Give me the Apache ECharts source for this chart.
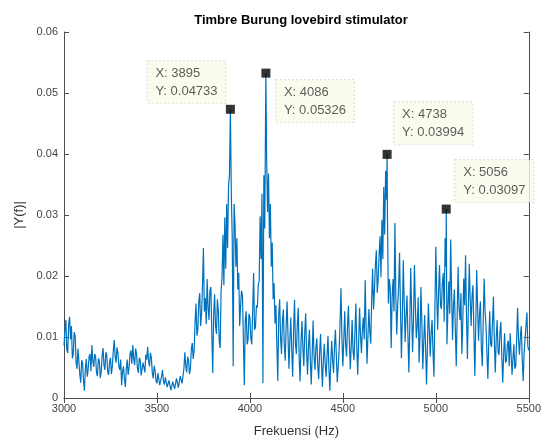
<!DOCTYPE html>
<html>
<head>
<meta charset="utf-8">
<script src="https://cdn.jsdelivr.net/npm/echarts@6/dist/echarts.min.js"></script>
<style>
  html, body { margin: 0; padding: 0; background: #fff; }
  #chart { width: 544px; height: 444px; }
</style>
</head>
<body>
<div id="chart"></div>
<script>
  // spectrum, one value every 5 Hz from 3000 Hz (one row = 100 Hz)
  const freqStart = 3000;
  const freqStep = 5;
  const amp = [
    0.0086, 0.0112, 0.0128, 0.0079, 0.0074, 0.0121, 0.0133, 0.0096, 0.0118, 0.0065, 0.0072, 0.0108, 0.0102, 0.0058, 0.0048, 0.0081, 0.0079, 0.0039, 0.0025, 0.0062,
    0.0057, 0.0028, 0.0012, 0.0049, 0.0064, 0.0035, 0.0047, 0.0068, 0.0072, 0.0044, 0.0087, 0.0061, 0.0051, 0.0072, 0.0068, 0.0041, 0.0036, 0.0065, 0.0061, 0.0033,
    0.0042, 0.0069, 0.0082, 0.0054, 0.0046, 0.0075, 0.0071, 0.0043, 0.0038, 0.0058, 0.0066, 0.0039, 0.0052, 0.0077, 0.0095, 0.0068, 0.0058, 0.0083, 0.0074, 0.0052,
    0.0046, 0.0063, 0.0021, 0.0044, 0.0052, 0.0031, 0.0018, 0.0047, 0.0063, 0.0038, 0.0049, 0.0072, 0.0078, 0.0056, 0.0087, 0.0064, 0.0054, 0.0081, 0.0073, 0.0049,
    0.0041, 0.0066, 0.0062, 0.0037, 0.0035, 0.0058, 0.0057, 0.0042, 0.0071, 0.0063, 0.0084, 0.0061, 0.0052, 0.0074, 0.0066, 0.0041, 0.0032, 0.0053, 0.0045, 0.0028,
    0.0024, 0.0041, 0.0038, 0.0021, 0.0019, 0.0036, 0.0046, 0.0027, 0.0022, 0.0034, 0.0031, 0.0018, 0.0016, 0.0029, 0.0028, 0.0013, 0.0014, 0.0027, 0.0026, 0.0015,
    0.0018, 0.0032, 0.0029, 0.0017, 0.0015, 0.0036, 0.0033, 0.0024, 0.0021, 0.0048, 0.0075, 0.0052, 0.0042, 0.0068, 0.0061, 0.0039, 0.0048, 0.0081, 0.0090, 0.0064,
    0.0078, 0.0124, 0.0155, 0.0102, 0.0112, 0.0158, 0.0172, 0.0118, 0.0138, 0.0185, 0.0246, 0.0142, 0.0164, 0.0121, 0.0195, 0.0148, 0.0128, 0.0176, 0.0182, 0.0108,
    0.0041, 0.0135, 0.0170, 0.0118, 0.0105, 0.0162, 0.0144, 0.0092, 0.0082, 0.0175, 0.0198, 0.0268, 0.0185, 0.0296, 0.0212, 0.0318, 0.0246, 0.0348, 0.0365, 0.04733,
    0.0335, 0.0262, 0.0052, 0.0318, 0.0285, 0.0215, 0.0262, 0.0178, 0.0205, 0.0118, 0.0152, 0.0176, 0.0168, 0.0095, 0.0021, 0.0128, 0.0142, 0.0088, 0.0095, 0.0138,
    0.0132, 0.0098, 0.0088, 0.0145, 0.0205, 0.0112, 0.0116, 0.0152, 0.0148, 0.0186, 0.0192, 0.0298, 0.0228, 0.0335, 0.0024, 0.0365, 0.0278, 0.0497, 0.0392, 0.0305,
    0.0368, 0.0262, 0.0318, 0.0215, 0.0255, 0.0162, 0.0188, 0.0122, 0.0152, 0.0085, 0.0028, 0.0135, 0.0162, 0.0098, 0.0072, 0.0128, 0.0145, 0.0086, 0.0061, 0.0118,
    0.0158, 0.0102, 0.0048, 0.0095, 0.0132, 0.0078, 0.0035, 0.0112, 0.0161, 0.0088, 0.0072, 0.0121, 0.0148, 0.0064, 0.0027, 0.0092, 0.0126, 0.0081, 0.0052, 0.0108,
    0.0139, 0.0076, 0.0038, 0.0084, 0.0112, 0.0062, 0.0022, 0.0071, 0.0127, 0.0068, 0.0046, 0.0082, 0.0098, 0.0052, 0.0031, 0.0074, 0.0105, 0.0058, 0.0018, 0.0062,
    0.0089, 0.0055, 0.0035, 0.0071, 0.0102, 0.0048, 0.0012, 0.0058, 0.0094, 0.0062, 0.0041, 0.0085, 0.0112, 0.0068, 0.0026, 0.0052, 0.0078, 0.0124, 0.0180, 0.0098,
    0.0052, 0.0096, 0.0142, 0.0088, 0.0068, 0.0118, 0.0151, 0.0092, 0.0047, 0.0085, 0.0128, 0.0076, 0.0062, 0.0108, 0.0155, 0.0082, 0.0038, 0.0092, 0.0148, 0.0102,
    0.0074, 0.0112, 0.0132, 0.0096, 0.0193, 0.0118, 0.0056, 0.0102, 0.0146, 0.0108, 0.0089, 0.0162, 0.0212, 0.0145, 0.0178, 0.0218, 0.0242, 0.0172, 0.0196, 0.0235,
    0.0265, 0.0198, 0.0292, 0.0228, 0.0346, 0.0268, 0.0372, 0.0325, 0.0295, 0.0155, 0.0195, 0.0178, 0.0082, 0.0165, 0.0195, 0.0142, 0.0287, 0.0168, 0.0104, 0.0152,
    0.0182, 0.0238, 0.0145, 0.0065, 0.0132, 0.0226, 0.0158, 0.0092, 0.0135, 0.0168, 0.0102, 0.0042, 0.0118, 0.0213, 0.0142, 0.0075, 0.0128, 0.0218, 0.0152, 0.0098,
    0.0118, 0.0165, 0.0058, 0.0102, 0.0182, 0.0122, 0.0047, 0.0092, 0.0136, 0.0082, 0.0022, 0.0085, 0.0155, 0.0112, 0.0068, 0.0108, 0.0128, 0.0074, 0.0035, 0.0142,
    0.0248, 0.0168, 0.0112, 0.0175, 0.0218, 0.0152, 0.0146, 0.0188, 0.0205, 0.0125, 0.0262, 0.0215, 0.0088, 0.0145, 0.0191, 0.0138, 0.0260, 0.0172, 0.0095, 0.0152,
    0.0178, 0.0112, 0.0052, 0.0138, 0.0215, 0.0148, 0.0128, 0.0172, 0.0072, 0.0125, 0.0196, 0.0152, 0.0234, 0.0135, 0.0064, 0.0148, 0.0220, 0.0162, 0.0118, 0.0168,
    0.0185, 0.0105, 0.0036, 0.0122, 0.0210, 0.0148, 0.0094, 0.0138, 0.0158, 0.0082, 0.0052, 0.0128, 0.0196, 0.0142, 0.0118, 0.0072, 0.0031, 0.0095, 0.0142, 0.0088,
    0.0084, 0.0125, 0.0166, 0.0092, 0.0042, 0.0098, 0.0128, 0.0075, 0.0071, 0.0108, 0.0125, 0.0068, 0.0025, 0.0072, 0.0106, 0.0058, 0.0062, 0.0088, 0.0094, 0.0052,
    0.0106, 0.0072, 0.0038, 0.0065, 0.0088, 0.0048, 0.0052, 0.0098, 0.0148, 0.0095, 0.0071, 0.0102, 0.0118, 0.0062, 0.0028, 0.0074, 0.0096, 0.0118, 0.0140, 0.0085,
    0.0078
  ];

  // data tips
  const peakFreq = [3895, 4086, 4738, 5056];
  const peakAmp = [0.04733, 0.05326, 0.03994, 0.03097];

  const xTicks = { min: 3000, max: 5500, interval: 500 };
  const yTicks = { min: 0, max: 0.06, interval: 0.01 };

  // tip box left edge / vertical centre relative to its marker (px)
  const tipOffset = [[-83, -27], [10, 28], [7, -31], [9, -28]];

  let points = amp.map((v, i) => [freqStart + i * freqStep, v]);
  peakFreq.forEach((f, i) => points.push([f, peakAmp[i]]));
  points.sort((a, b) => a[0] - b[0]);

  const axisColor = '#4d4d4d';
  const font = 'Liberation Sans';

  const chart = echarts.init(document.getElementById('chart'));
  const option = {
    animation: false,
    title: {
      text: 'Timbre Burung lovebird stimulator',
      left: 296,
      textAlign: 'center',
      top: 9,
      textStyle: { fontFamily: font, fontSize: 13, fontWeight: 'bold', color: '#000' }
    },
    grid: { left: 64, right: 15, top: 32, bottom: 46 },
    xAxis: [{
      type: 'value',
      min: xTicks.min, max: xTicks.max, interval: xTicks.interval,
      name: 'Frekuensi (Hz)',
      nameLocation: 'middle',
      nameGap: 27,
      nameTextStyle: { fontFamily: font, fontSize: 13, color: '#333' },
      axisLine: { lineStyle: { color: axisColor } },
      axisTick: { inside: true, length: 5, lineStyle: { color: axisColor } },
      axisLabel: { fontFamily: font, fontSize: 11, color: '#444', margin: 5, formatter: v => String(v) },
      splitLine: { show: false }
    }, {
      type: 'value', position: 'top',
      min: xTicks.min, max: xTicks.max, interval: xTicks.interval,
      axisLine: { lineStyle: { color: axisColor } },
      axisTick: { inside: true, length: 5, lineStyle: { color: axisColor } },
      axisLabel: { show: false },
      splitLine: { show: false }
    }],
    yAxis: [{
      type: 'value',
      min: yTicks.min, max: yTicks.max, interval: yTicks.interval,
      name: '|Y(f)|',
      nameLocation: 'middle',
      nameGap: 34,
      nameTextStyle: { fontFamily: font, fontSize: 13, color: '#333' },
      axisLine: { show: true, lineStyle: { color: axisColor } },
      axisTick: { show: true, inside: true, length: 5, lineStyle: { color: axisColor } },
      axisLabel: { fontFamily: font, fontSize: 11, color: '#444', margin: 6, formatter: v => String(v) },
      splitLine: { show: false }
    }, {
      type: 'value', position: 'right',
      min: yTicks.min, max: yTicks.max, interval: yTicks.interval,
      axisLine: { show: true, lineStyle: { color: axisColor } },
      axisTick: { show: true, inside: true, length: 5, lineStyle: { color: axisColor } },
      axisLabel: { show: false },
      splitLine: { show: false }
    }],
    series: [{
      type: 'line',
      data: points,
      showSymbol: false,
      sampling: null,
      lineStyle: { color: '#0072BD', width: 1.2 },
      z: 2
    }, {
      type: 'scatter',
      symbol: 'rect',
      symbolSize: 9,
      itemStyle: { color: '#000' },
      z: 5,
      data: peakFreq.map((f, i) => ({
        value: [f, peakAmp[i]],
        label: { offset: tipOffset[i] }
      })),
      label: {
        show: true,
        position: 'inside',
        formatter: p => 'X: ' + p.value[0] + '\nY: ' + p.value[1],
        align: 'left',
        verticalAlign: 'middle',
        fontFamily: font,
        fontSize: 13,
        lineHeight: 18,
        color: '#333',
        backgroundColor: '#fbfbea',
        borderColor: '#d8d8c8',
        borderWidth: 1,
        borderType: 'dotted',
        padding: [3, 8]
      }
    }]
  };
  chart.setOption(option);
</script>
</body>
</html>
